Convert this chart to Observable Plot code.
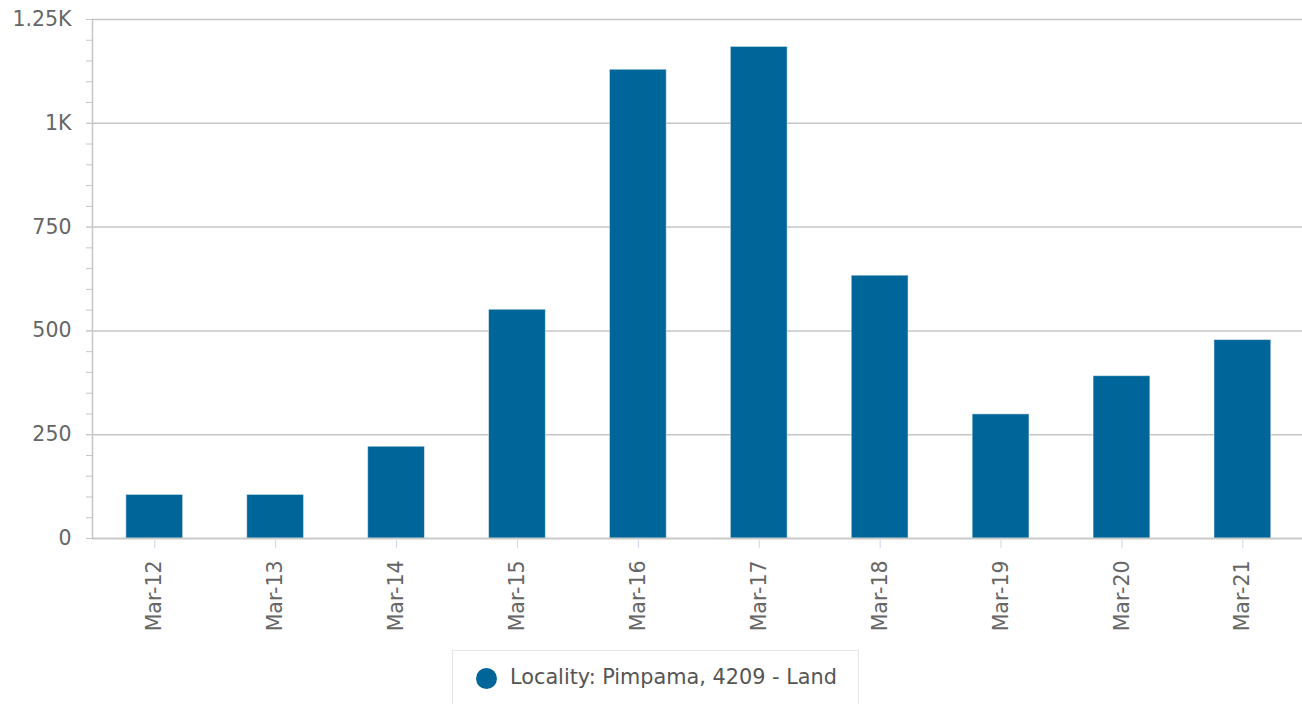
<!DOCTYPE html>
<html>
<head>
<meta charset="utf-8">
<script src="https://cdn.jsdelivr.net/npm/d3@7"></script>
<script src="https://cdn.jsdelivr.net/npm/@observablehq/plot@0.6"></script>
<style>
  html, body { margin: 0; padding: 0; background: #fff; width: 1302px; height: 704px; overflow: hidden; }
  #chart svg { display: block; }
  #legend {
    position: absolute; left: 452px; top: 650px; width: 407px; height: 60px;
    border: 1px solid #e6e6e6; box-sizing: border-box; background: #fff;
    font-family: "DejaVu Sans", sans-serif; font-size: 20.8px; color: #555;
  }
  #legend .dot { position: absolute; left: 23px; top: 17px; width: 21px; height: 21px; border-radius: 50%; background: #006699; }
  #legend .txt { position: absolute; left: 57px; top: 14px; white-space: nowrap; }
</style>
</head>
<body>
<div id="chart"></div>
<div id="legend"><span class="dot"></span><span class="txt">Locality: Pimpama, 4209 - Land</span></div>
<script>
const categories = ["Mar-12", "Mar-13", "Mar-14", "Mar-15", "Mar-16", "Mar-17", "Mar-18", "Mar-19", "Mar-20", "Mar-21"];
const values = [105, 105, 221, 551, 1129, 1184, 633, 299, 391, 478];
const yMajorTicks = [0, 250, 500, 750, 1000, 1250];
const yMajorLabels = ["0", "250", "500", "750", "1K", "1.25K"];
const yMinorTicks = [0, 50, 100, 150, 200, 250, 300, 350, 400, 450, 500, 550, 600, 650, 700, 750, 800, 850, 900, 950, 1000, 1050, 1100, 1150, 1200, 1250];

const data = categories.map((c, i) => ({category: c, value: values[i]}));
const labelOf = new Map(yMajorTicks.map((v, i) => [v, yMajorLabels[i]]));

const chart = Plot.plot({
  width: 1302,
  height: 650,
  marginLeft: 92,
  marginRight: 0,
  marginTop: 19,
  marginBottom: 112,
  style: {fontFamily: "DejaVu Sans, sans-serif", fontSize: "20.5px", color: "#666", background: "#fff"},
  x: {domain: categories, paddingInner: 0.53, paddingOuter: 0.269, align: 0.52, round: false, label: null},
  y: {domain: [0, 1250], label: null},
  marks: [
    Plot.gridY(yMajorTicks, {stroke: "#c6c6c6", strokeOpacity: 1, strokeWidth: 1.5}),
    Plot.barY(data, {x: "category", y: "value", fill: "#006699", stroke: "#ffffff", strokeOpacity: 0.5, strokeWidth: 1}),
    Plot.ruleY([0], {stroke: "#c6c6c6", strokeWidth: 1.5}),
    Plot.frame({anchor: "left", stroke: "#c6c6c6", strokeWidth: 1.5}),
    Plot.axisY(yMinorTicks, {tickSize: 6, stroke: "#c6c6c6", tickFormat: () => "", label: null}),
    Plot.axisY(yMajorTicks, {tickSize: 6, tickPadding: 15, stroke: "#c6c6c6", fill: "#666", tickFormat: d => labelOf.get(d), label: null}),
    Plot.axisX({tickSize: 10, tickPadding: 12, tickRotate: -90, stroke: "#ccd6eb", fill: "#666", label: null})
  ]
});
document.getElementById("chart").appendChild(chart);
</script>
</body>
</html>
